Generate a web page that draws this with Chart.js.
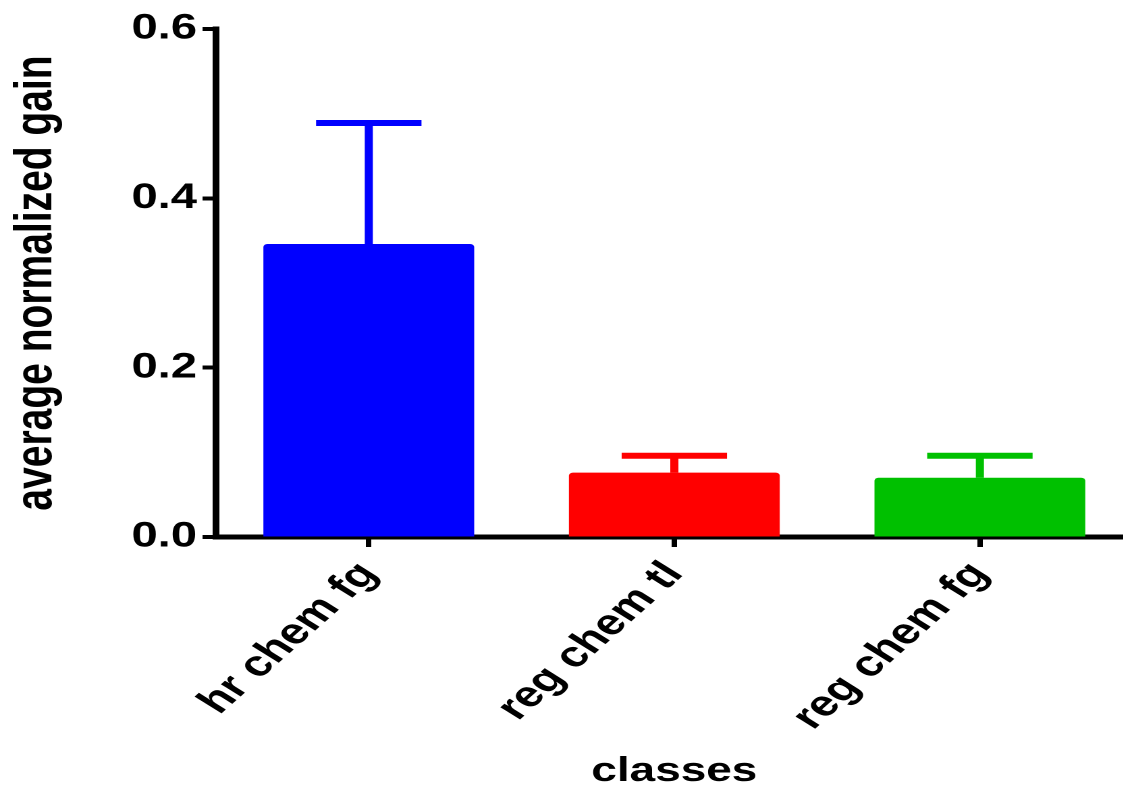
<!DOCTYPE html>
<html>
<head>
<meta charset="utf-8">
<script src="https://cdn.jsdelivr.net/npm/chart.js@4"></script>
<style>
  html, body { margin: 0; padding: 0; background: #fff; overflow: hidden; }
  /* the reference is stretched sideways, so the chart is too */
  #wrap { width: 840px; height: 793px; transform: scaleX(1.35); transform-origin: 0 0; }
</style>
</head>
<body>
<div id="wrap"><canvas id="gainChart"></canvas></div>
<script>
// Datos
const classes = ["hr chem fg", "reg chem tl", "reg chem fg"];
const avgGain = [0.346, 0.076, 0.070];
const gainErr = [0.143, 0.020, 0.026];
const barColors = ["#0000ff", "#ff0000", "#00c000"];
const yTicks = [0, 0.2, 0.4, 0.6];

const fontFamily = "'Liberation Sans', Arial, sans-serif";

// Barras de error (solo hacia arriba)
const errorBars = {
  id: "errorBars",
  afterDatasetsDraw(chart) {
    const ctx = chart.ctx;
    const yScale = chart.scales.y;
    const meta = chart.getDatasetMeta(0);
    ctx.save();
    meta.data.forEach((bar, i) => {
      const yTop = yScale.getPixelForValue(avgGain[i] + gainErr[i]);
      const yMean = yScale.getPixelForValue(avgGain[i]);
      const half = bar.width * 0.25;
      ctx.strokeStyle = barColors[i];
      ctx.lineWidth = 6;
      ctx.lineCap = "butt";
      ctx.beginPath();
      ctx.moveTo(bar.x, yMean);
      ctx.lineTo(bar.x, yTop);
      ctx.moveTo(bar.x - half, yTop);
      ctx.lineTo(bar.x + half, yTop);
      ctx.stroke();
    });
    ctx.restore();
  }
};

const ctx = document.getElementById("gainChart").getContext("2d");
const gainChart = new Chart(ctx, {
  type: "bar",
  data: {
    labels: classes,
    datasets: [{
      data: avgGain,
      backgroundColor: barColors,
      borderWidth: 0,
      borderRadius: { topLeft: 3, topRight: 3 },
      borderSkipped: "bottom",
      categoryPercentage: 1,
      barPercentage: 0.69
    }]
  },
  options: {
    responsive: true,
    maintainAspectRatio: false,
    animation: false,
    devicePixelRatio: 2,
    layout: { padding: { top: 29, right: 1, bottom: 0, left: 0 } },
    plugins: {
      legend: { display: false },
      tooltip: { enabled: false }
    },
    scales: {
      x: {
        z: 1,
        offset: true,
        border: { display: true, color: "#000", width: 5 },
        grid: { drawOnChartArea: false, offset: false, color: "#000", tickLength: 10, tickWidth: 4 },
        ticks: {
          color: "#000",
          font: { family: fontFamily, size: 36, weight: "bold" },
          minRotation: 50,
          maxRotation: 50,
          autoSkip: false,
          padding: 7
        },
        title: {
          display: true,
          text: "classes",
          color: "#000",
          font: { family: fontFamily, size: 34, weight: "bold" },
          padding: { top: 0, bottom: 1 }
        },
        afterFit(scale) { scale.height = 256; }
      },
      y: {
        z: 1,
        min: 0,
        max: 0.6,
        border: { display: true, color: "#000", width: 5 },
        grid: { drawOnChartArea: false, color: "#000", tickLength: 10, tickWidth: 4 },
        afterBuildTicks(scale) { scale.ticks = yTicks.map(v => ({ value: v })); },
        ticks: {
          color: "#000",
          font: { family: fontFamily, size: 35, weight: "bold" },
          padding: 4,
          callback: v => v.toFixed(1)
        },
        title: {
          display: true,
          text: "average normalized gain",
          color: "#000",
          font: { family: fontFamily, size: 39, weight: "bold" },
          padding: { top: 4, bottom: 0 }
        },
        afterFit(scale) { scale.width = 160; }
      }
    }
  },
  plugins: [errorBars]
});
</script>
</body>
</html>
